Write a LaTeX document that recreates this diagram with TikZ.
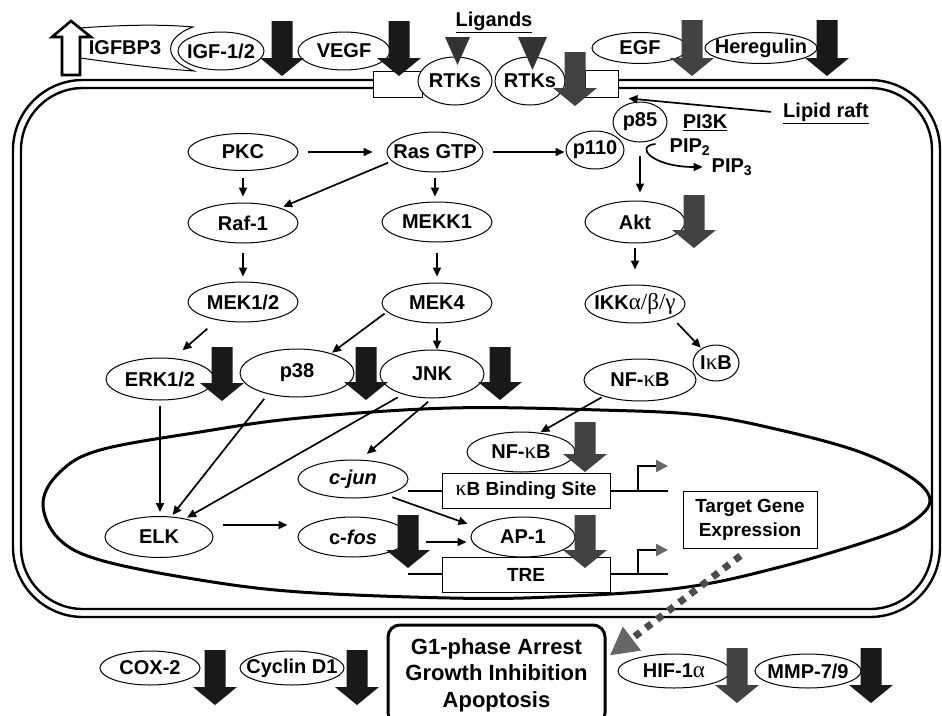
\documentclass[tikz,border=0pt]{standalone}
\usepackage{fontspec}
\setmainfont{Liberation Sans}
\newfontfamily\grk[Scale=1.15]{Liberation Serif}
\usetikzlibrary{shapes.geometric,arrows.meta,calc}
\newcommand\fs{\fontsize{20}{23}\selectfont\bfseries}
\newcommand\fsb{\fontsize{19}{24}\selectfont\bfseries}
\newcommand\gk[1]{{\grk\mdseries #1}}
\newcommand\zt[1]{\makebox[0pt]{#1}}
\newcommand\fatarr[4]{\fill[#4] (#1-10.5,#2) -- (#1+10.5,#2) -- (#1+10.5,#3-18) -- (#1+22,#3-18) -- (#1,#3) -- (#1-22,#3-18) -- (#1-10.5,#3-18) -- cycle;}
\begin{document}
\begin{tikzpicture}[x=1pt,y=-1pt,
 ell/.style={ellipse,draw,fill=white,inner sep=0pt,line width=1pt,font=\fs},
 box/.style={rectangle,draw,fill=white,inner sep=0pt,line width=1pt,font=\fsb},
 lbl/.style={inner sep=0pt,font=\fs},
 con/.style={line width=1.7pt,-{Triangle[length=9pt,width=8pt]}},
 memb/.style={line width=2.4pt},
 dk/.style={fill=black!90},
 gy/.style={fill=black!74},
]
\useasboundingbox (0,0) rectangle (942,715);
\fill[white] (0,0) rectangle (942,715);

% cell membrane
\draw[memb,rounded corners=70pt] (373,80) -- (13,80) -- (13,617) -- (940,617) -- (940,80) -- (618,80);
\draw[memb,rounded corners=62pt] (373,88) -- (21,88) -- (21,609) -- (932,609) -- (932,88) -- (618,88);
\node[box,minimum width=49pt,minimum height=26pt] (raftL) at (397.5,84) {};
\node[box,minimum width=33pt,minimum height=27pt] (raftR) at (601.5,83.5) {};

% nucleus
\draw[line width=3pt] plot[smooth cycle,tension=0.6] coordinates {(43,503) (60,472) (100,450) (200,432) (300,418) (450,408) (600,410) (700,415) (780,430) (860,452) (912,478) (930,500) (915,520) (880,537) (780,567) (680,588) (550,597) (450,598) (300,592) (200,580) (100,560) (58,538)};

% DNA
\draw[line width=2.6pt] (408,491) -- (668,491);
\draw[line width=2.6pt] (408,574) -- (668,574);
\draw[line width=2.4pt,-{Triangle[length=12pt,width=12pt,color=black!60]}] (638,491) -- (638,466) -- (668,466);
\draw[line width=2.4pt,-{Triangle[length=12pt,width=12pt,color=black!60]}] (638,574) -- (638,550) -- (668,550);

% IGFBP3
\draw[line width=1pt,fill=white] (80,28) .. controls (120,25) and (160,24) .. (193,27) .. controls (163,38) and (163,60) .. (194,71) .. controls (150,68) and (110,62) .. (80,58);
\draw[line width=2.6pt,fill=white,line join=miter] (62,75) -- (62,37) -- (52,37) -- (71,21) -- (91,37) -- (80,37) -- (80,75) -- cycle;
\node[lbl] (igfbp) at (125,48) {IGFBP3};

% top row
\node[ell,minimum width=86pt,minimum height=38pt] (igf) at (221,51) {\zt{IGF-1/2}};
\node[ell,minimum width=92pt,minimum height=38pt] (vegf) at (344,51) {\zt{VEGF}};
\node[ell,minimum width=96pt,minimum height=31pt] (egf) at (640,48) {\zt{EGF}};
\node[ell,minimum width=112pt,minimum height=31pt] (hrg) at (761,48) {\zt{Heregulin}};
\node[ell,minimum width=74pt,minimum height=48pt] (rtka) at (455,81) {\zt{RTKs}};
\node[ell,minimum width=70pt,minimum height=48pt] (rtkb) at (530,81) {\zt{RTKs}};
\node[lbl] (lig) at (494,22) {\underline{Ligands}};
\node[lbl] (lipid) at (826,113) {\underline{Lipid raft}};
\node[lbl] (pik) at (705,123) {\underline{PI3K}};

% cytoplasm
\node[ell,minimum width=110pt,minimum height=37pt] (pkc) at (243,152) {\zt{PKC}};
\node[ell,minimum width=96pt,minimum height=40pt] (ras) at (435,152) {\zt{Ras GTP}};
\node[ell,minimum width=54pt,minimum height=40pt] (p85) at (640,122) {\zt{p85}};
\node[ell,minimum width=58pt,minimum height=38pt] (p110) at (595,150) {\zt{p110}};
\node[lbl] (pipb) at (690,147) {PIP\textsubscript{2}};
\node[lbl] (pipc) at (732,167) {PIP\textsubscript{3}};
\node[ell,minimum width=110pt,minimum height=40pt] (raf) at (243,223) {\zt{Raf-1}};
\node[ell,minimum width=110pt,minimum height=40pt] (mekk) at (437,222) {\zt{MEKK1}};
\node[ell,minimum width=100pt,minimum height=42pt] (akt) at (635,222) {\zt{Akt}};
\node[ell,minimum width=110pt,minimum height=40pt] (mekb) at (243,302) {\zt{MEK1/2}};
\node[ell,minimum width=110pt,minimum height=40pt] (meka) at (437,303) {\zt{MEK4}};
\node[ell,minimum width=100pt,minimum height=38pt] (ikk) at (635,304) {\zt{IKK\gk{α/β/γ}}};
\node[ell,minimum width=108pt,minimum height=42pt] (erk) at (160,379) {\zt{ERK1/2}};
\node[ell,minimum width=114pt,minimum height=48pt] (pts) at (297,373) {\zt{p38}};
\node[ell,minimum width=104pt,minimum height=48pt] (jnk) at (432,374) {\zt{JNK}};
\node[ell,minimum width=112pt,minimum height=42pt] (nfa) at (640,380) {\zt{NF-\gk{κ}B}};
\node[ell,minimum width=46pt,minimum height=36pt] (ikb) at (716,363) {\zt{I\gk{κ}B}};

% nucleus contents
\node[ell,minimum width=108pt,minimum height=40pt] (nfb) at (521,452) {\zt{NF-\gk{κ}B}};
\node[box,minimum width=168pt,minimum height=35pt] (kb) at (526,490.5) {\gk{κ}B Binding Site};
\node[ell,minimum width=110pt,minimum height=38pt] (cjun) at (353,479) {\zt{\textit{c-jun}}};
\node[ell,minimum width=108pt,minimum height=41pt] (elk) at (159,537) {\zt{ELK}};
\node[ell,minimum width=110pt,minimum height=40pt] (cfos) at (353,537) {\zt{c-\textit{fos}}};
\node[ell,minimum width=104pt,minimum height=40pt] (apa) at (523,537) {\zt{AP-1}};
\node[box,minimum width=168pt,minimum height=35pt] (tre) at (526,574.5) {TRE};
\node[box,minimum width=134pt,minimum height=57pt,align=center] (tge) at (750,519.5) {Target Gene\\Expression};

% bottom
\node[draw,line width=3pt,rounded corners=12pt,minimum width=217pt,minimum height=100pt,align=center,inner sep=0pt,font=\fontsize{22}{26.5}\selectfont\bfseries] (gone) at (496.5,675) {G1-phase Arrest\\Growth Inhibition\\Apoptosis};
\node[ell,minimum width=100pt,minimum height=34pt] (cox) at (150,668) {\zt{COX-2}};
\node[ell,minimum width=104pt,minimum height=34pt] (cyc) at (292,668) {\zt{Cyclin D1}};
\node[ell,minimum width=112pt,minimum height=34pt] (hif) at (674,671) {\zt{HIF-1\gk{α}}};
\node[ell,minimum width=106pt,minimum height=34pt] (mmp) at (808,671) {\zt{MMP-7/9}};

% ligand triangles
\fill[black!80] (445,37) -- (470,37) -- (457.5,65) -- cycle;
\fill[black!80] (518,37) -- (547,37) -- (532.5,70) -- cycle;

% fat arrows
\fatarr{282}{21}{76}{dk}
\fatarr{399}{21}{76}{dk}
\fatarr{575}{52}{106}{gy}
\fatarr{692}{20}{76}{gy}
\fatarr{827}{20}{76}{dk}
\fatarr{694}{195}{248}{gy}
\fatarr{222}{347}{401}{dk}
\fatarr{366}{347}{400}{dk}
\fatarr{500}{347}{400}{dk}
\fatarr{585}{422}{472}{gy}
\fatarr{408}{515}{568}{dk}
\fatarr{585}{515}{568}{gy}
\fatarr{215}{650}{705}{dk}
\fatarr{357}{650}{705}{dk}
\fatarr{737}{648}{703}{gy}
\fatarr{871}{648}{703}{dk}

% connectors
\draw[con,shorten <=9pt,shorten >=14pt] (pkc.east) -- (ras.west);
\draw[con,shorten <=9pt,shorten >=1pt] (ras.east) -- (ras.east -| p110.west);
\draw[con,shorten <=4pt,shorten >=3pt] (ras.192) -- (raf.22);
\draw[con,shorten <=7pt,shorten >=6pt] (pkc.south) -- (raf.north);
\draw[con,shorten <=5pt,shorten >=5pt] (ras.south) -- (ras.south |- mekk.north);
\draw[con,shorten <=9pt,shorten >=5pt] (raf.south) -- (mekb.north);
\draw[con,shorten <=10pt,shorten >=6pt] (mekk.south) -- (meka.north);
\draw[con,shorten <=13pt,shorten >=12pt] (mekb.215) -- (erk.57);
\draw[con,shorten <=3pt,shorten >=1pt] (meka.190) -- (pts.30);
\draw[con,shorten <=4pt,shorten >=0pt] (meka.south) -- (meka.south |- jnk.north);
\draw[con,shorten <=13pt,shorten >=8pt] (p85.south) -- (p85.south |- akt.north);
\draw[line width=1.7pt,-{Triangle[length=9pt,width=8pt]}] ([xshift=-14pt,yshift=3pt]pipb.west) .. controls +(-22,2) and +(-50,0) .. ([xshift=-9pt]pipc.west);
\draw[con,shorten <=4pt,shorten >=15pt] (akt.south) -- (ikk.north);
\draw[con,shorten <=8pt,shorten >=1pt] (ikk.-20) -- (ikb.135);
\draw[con,shorten <=2pt,shorten >=1pt] (nfa.204) -- (nfb.46);
\draw[con,shorten <=5pt,shorten >=9pt] (jnk.south) -- (cjun.70);
\draw[con,shorten <=6pt,shorten >=2pt] (jnk.215) -- (elk.35);
\draw[con,shorten <=6pt,shorten >=2pt] (pts.216) -- (elk.59);
\draw[con,shorten <=5pt,shorten >=4pt] (erk.south) -- (erk.south |- elk.north);
\draw[con,shorten <=9pt,shorten >=10pt] ([yshift=12pt]elk.east) -- ([yshift=12pt]elk.east -| cfos.west);
\draw[con,shorten <=7pt,shorten >=10pt] (cjun.-26) -- (apa.168);
\draw[con,shorten <=17pt,shorten >=4pt] ([yshift=-5pt]cfos.east) -- ([yshift=-5pt]cfos.east -| apa.west);
\draw[con,shorten <=12pt,shorten >=10pt] (lipid.west) -- (raftR.south east);
\draw[line width=7pt,black!70,dash pattern=on 7pt off 7pt,shorten <=12pt,shorten >=4pt,-{Triangle[length=28pt,width=28pt,color=black!60]}] (tge.south) -- ([yshift=17pt]gone.east);
\end{tikzpicture}
\end{document}
